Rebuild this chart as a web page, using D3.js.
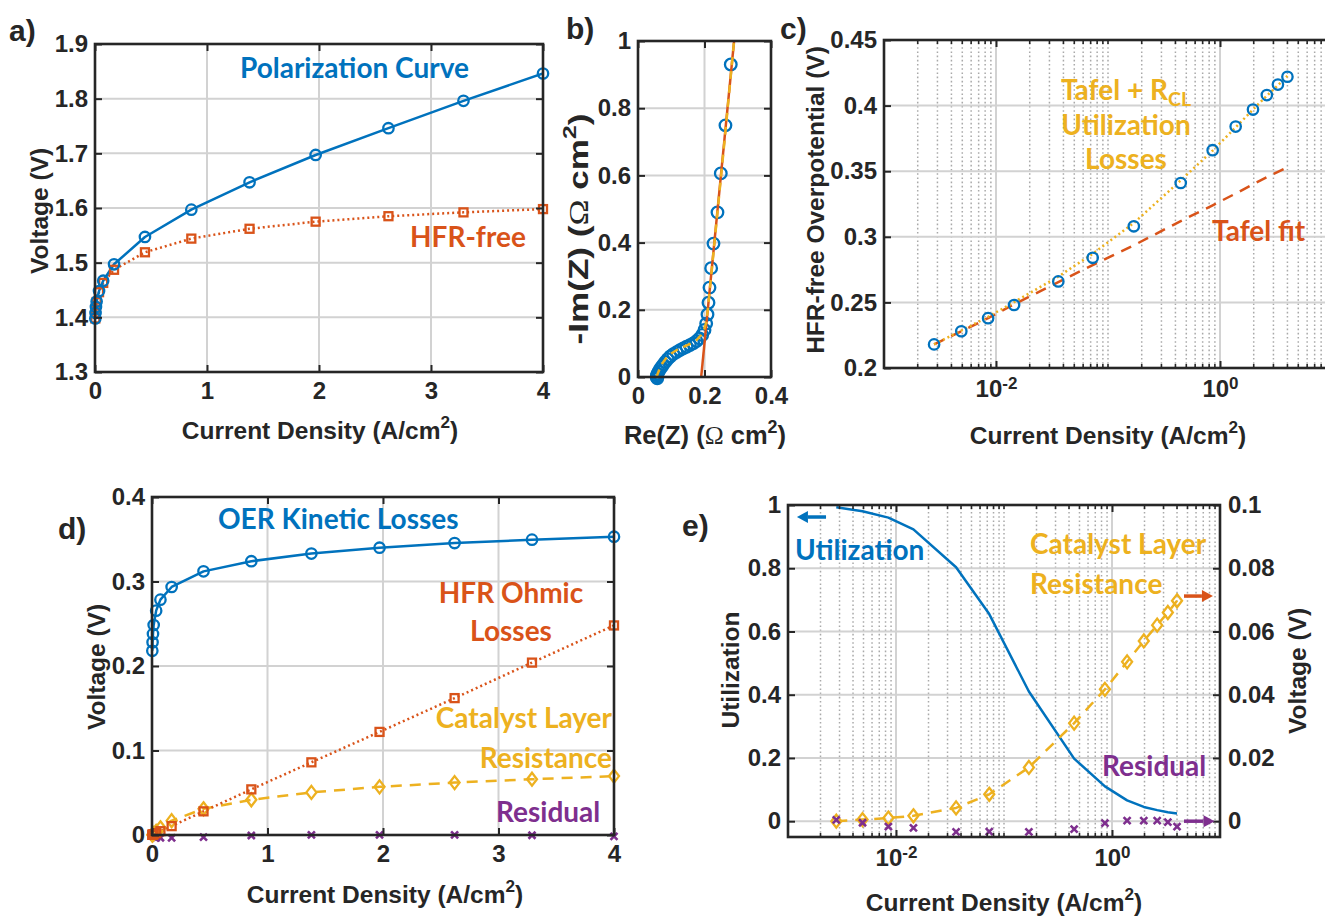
<!DOCTYPE html>
<html>
<head>
<meta charset="utf-8">
<script src="https://cdn.jsdelivr.net/npm/d3@7"></script>
<style>
  body { margin: 0; background: #fff; }
  svg { display: block; }
</style>
</head>
<body>
<script>
// ---------- data ----------
const currentDensity = [0.0028, 0.0049, 0.0085, 0.0145, 0.036, 0.073, 0.17, 0.446, 0.86, 1.38, 1.97, 2.62, 3.29, 4.0];
const polarizationV  = [1.398, 1.408, 1.419, 1.429, 1.448, 1.467, 1.497, 1.547, 1.597, 1.647, 1.697, 1.746, 1.796, 1.846];
const hfrFreeV       = [1.398, 1.408, 1.418, 1.428, 1.446, 1.463, 1.487, 1.519, 1.544, 1.562, 1.575, 1.585, 1.592, 1.598];
const overpotential  = [0.218, 0.228, 0.238, 0.248, 0.266, 0.284, 0.308, 0.341, 0.366, 0.384, 0.397, 0.408, 0.416, 0.422];
const tafelRclModel  = [0.218, 0.2285, 0.239, 0.2502, 0.2697, 0.287, 0.3105, 0.343, 0.3657, 0.3834, 0.397, 0.4075, 0.4155, 0.4227];
const oerKinetic     = [0.218, 0.228, 0.238, 0.2485, 0.2655, 0.2785, 0.2935, 0.312, 0.324, 0.333, 0.340, 0.3455, 0.3495, 0.353];
const hfrOhmic       = [0.0002, 0.0003, 0.0005, 0.0009, 0.0022, 0.0045, 0.0105, 0.028, 0.054, 0.086, 0.122, 0.162, 0.204, 0.248];
const clResistance   = [0.0, 0.0005, 0.001, 0.0017, 0.0042, 0.0085, 0.017, 0.031, 0.0417, 0.0504, 0.057, 0.062, 0.066, 0.0697];
const residual       = [0.0004, -0.0005, -0.0017, -0.0021, -0.0034, -0.0033, -0.0034, -0.0025, -0.0006, 0.0002, 0.0002, 0.0002, -0.0003, -0.0017];
const utilization    = [0.993, 0.98, 0.96, 0.923, 0.803, 0.655, 0.41, 0.198, 0.11, 0.066, 0.045, 0.035, 0.028, 0.024];

// impedance spectrum (Nyquist)
const eisRe = [0.279, 0.263, 0.249, 0.239, 0.227, 0.220, 0.215, 0.212, 0.209, 0.205,
               0.200, 0.193, 0.185, 0.176, 0.166, 0.156, 0.146, 0.136, 0.126, 0.116, 0.106,
               0.097, 0.089, 0.082, 0.076, 0.071, 0.066, 0.062, 0.059, 0.057, 0.056, 0.058];
const eisIm = [0.930, 0.749, 0.606, 0.490, 0.397, 0.324, 0.266, 0.221, 0.186, 0.159,
               0.140, 0.125, 0.115, 0.107, 0.100, 0.095, 0.090, 0.085, 0.080, 0.074, 0.068,
               0.061, 0.053, 0.045, 0.037, 0.030, 0.023, 0.016, 0.010, 0.005, 0.000, -0.004];
const eisFitRe = [0.056, 0.060, 0.066, 0.074, 0.086, 0.100, 0.118, 0.138, 0.158, 0.176, 0.190, 0.199, 0.205, 0.210, 0.220, 0.240, 0.260, 0.289];
const eisFitIm = [0.000, 0.012, 0.026, 0.042, 0.058, 0.070, 0.081, 0.090, 0.099, 0.110, 0.125, 0.142, 0.162, 0.200, 0.300, 0.500, 0.700, 1.000];
const eisLineRe = [0.190, 0.289];
const eisLineIm = [0.0, 1.0];

// tick values
const ticksA_x = [0, 1, 2, 3, 4];
const ticksA_y = [1.3, 1.4, 1.5, 1.6, 1.7, 1.8, 1.9];
const ticksB_x = [0, 0.2, 0.4];
const ticksB_y = [0, 0.2, 0.4, 0.6, 0.8, 1];
const ticksC_y = [0.2, 0.25, 0.3, 0.35, 0.4, 0.45];
const ticksD_y = [0, 0.1, 0.2, 0.3, 0.4];
const ticksE_yL = [0, 0.2, 0.4, 0.6, 0.8, 1];
const ticksE_yR = [0, 0.02, 0.04, 0.06, 0.08, 0.1];
const ticksLog = [1e-2, 1e0];

// ---------- style ----------
const COL = { blue: "#0072BD", orange: "#D95319", yellow: "#EDB120", purple: "#7E2F8E" };
const AXC = "#262626";
const FONT = "'Liberation Sans', Arial, sans-serif";
const ANN = "Lato, 'Open Sans', sans-serif";
const TICK = 7;
const TICKFS = 24;
const LABFS = 24.5;
const ANNFS = 28;

const svg = d3.select("body").append("svg")
  .attr("width", 1325).attr("height", 918)
  .attr("font-family", FONT);

// minor positions for log axes (2..9 in each decade, plus unlabelled decades)
function logMinor(lo, hi, majors) {
  const out = [];
  for (let e = Math.log10(lo); e < Math.log10(hi); e++) {
    for (let k = 1; k <= 9; k++) {
      const v = k * Math.pow(10, e);
      if (!majors.some(m => Math.abs(m - v) / v < 1e-6)) out.push(v);
    }
  }
  return out;
}
const num = d => String(+(+d).toFixed(3));

let clipN = 0;
function makePanel(x, y, o) {
  const g = svg.append("g");
  const [xl, xr] = x.range(), [yb, yt] = y.range();
  const grid = g.append("g");
  if (o.xMinor) {
    grid.append("g").selectAll("line").data(o.xMinor).join("line")
      .attr("x1", d => x(d)).attr("x2", d => x(d)).attr("y1", yb).attr("y2", yt)
      .attr("stroke", "#a9a9a9").attr("stroke-width", 1.5).attr("stroke-dasharray", "1.6,2.6");
  }
  grid.append("g").selectAll("line").data(o.xGrid).join("line")
    .attr("x1", d => x(d)).attr("x2", d => x(d)).attr("y1", yb).attr("y2", yt)
    .attr("stroke", "#d2d2d2").attr("stroke-width", 2);
  grid.append("g").selectAll("line").data(o.yGrid).join("line")
    .attr("y1", d => y(d)).attr("y2", d => y(d)).attr("x1", xl).attr("x2", xr)
    .attr("stroke", "#d2d2d2").attr("stroke-width", 2);
  const id = "clip" + (clipN++);
  g.append("clipPath").attr("id", id).append("rect")
    .attr("x", xl).attr("y", yt).attr("width", xr - xl).attr("height", yb - yt);
  const lines = g.append("g").attr("clip-path", `url(#${id})`);
  const marks = g.append("g");
  const over = g.append("g").attr("clip-path", `url(#${id})`);
  const axes = g.append("g");
  return { g, lines, marks, over, axes, x, y };
}

function styleAxis(sel) {
  sel.select(".domain").remove();
  sel.selectAll(".tick line").attr("stroke", AXC).attr("stroke-width", 2);
  sel.selectAll(".tick text").attr("fill", AXC).attr("font-size", TICKFS)
    .attr("font-weight", "bold").attr("font-family", FONT);
}

function supTicks(sel) {
  sel.selectAll(".tick text").each(function (d) {
    const t = d3.select(this);
    const e = Math.round(Math.log10(d));
    t.text("10");
    t.append("tspan").attr("dy", "-0.5em").attr("font-size", 17).text(String(e));
  });
}

function drawAxes(p, o) {
  const { x, y, axes } = p;
  const [xl, xr] = x.range(), [yb, yt] = y.range();
  const bx = axes.append("g").attr("transform", `translate(0,${yb})`)
    .call(d3.axisBottom(x).tickValues(o.xTicks).tickSizeInner(-TICK).tickSizeOuter(0)
      .tickPadding(o.xPad || 10).tickFormat(o.log ? (d => d) : num));
  styleAxis(bx);
  if (o.log) supTicks(bx);
  const tx = axes.append("g").attr("transform", `translate(0,${yt})`)
    .call(d3.axisTop(x).tickValues(o.xTicks).tickSizeInner(-TICK).tickSizeOuter(0).tickFormat(""));
  styleAxis(tx);
  const ly = axes.append("g").attr("transform", `translate(${xl},0)`)
    .call(d3.axisLeft(y).tickValues(o.yTicks).tickSizeInner(-TICK).tickSizeOuter(0)
      .tickPadding(7).tickFormat(num));
  styleAxis(ly);
  const ry = o.yRight || y;
  const rg = axes.append("g").attr("transform", `translate(${xr},0)`)
    .call(d3.axisRight(ry).tickValues(o.yRightTicks || o.yTicks).tickSizeInner(-TICK).tickSizeOuter(0)
      .tickPadding(8).tickFormat(o.yRight ? num : ""));
  styleAxis(rg);
  if (o.xMinor) {
    const mg = axes.append("g");
    [yb, yt].forEach((yy, i) => {
      mg.append("g").selectAll("line").data(o.xMinor.filter(v => v > x.domain()[0] && v < x.domain()[1])).join("line")
        .attr("x1", d => x(d)).attr("x2", d => x(d))
        .attr("y1", yy).attr("y2", i === 0 ? yy - 4 : yy + 4)
        .attr("stroke", AXC).attr("stroke-width", 1.6);
    });
  }
  axes.append("rect").attr("x", xl).attr("y", yt).attr("width", xr - xl).attr("height", yb - yt)
    .attr("fill", "none").attr("stroke", AXC).attr("stroke-width", 2.6);
}

function drawLine(p, xs, ys, color, dash, yScale, layer) {
  const ysc = yScale || p.y;
  const pts = xs.map((v, i) => [v, ys[i]]);
  (layer || p.lines).append("path").datum(pts)
    .attr("d", d3.line().x(d => p.x(d[0])).y(d => ysc(d[1])))
    .attr("fill", "none").attr("stroke", color).attr("stroke-width", 2.5)
    .attr("stroke-dasharray", dash || null).attr("stroke-linejoin", "round");
}

function drawMarkers(p, xs, ys, shape, color, yScale, r) {
  const ysc = yScale || p.y;
  const pts = xs.map((v, i) => [p.x(v), ysc(ys[i])]);
  const g = p.marks.append("g").attr("fill", "none").attr("stroke", color).attr("stroke-width", 2.3);
  pts.forEach(([cx, cy]) => {
    if (shape === "circle") g.append("circle").attr("cx", cx).attr("cy", cy).attr("r", r || 5.2);
    else if (shape === "square") g.append("rect").attr("x", cx - 4).attr("y", cy - 4).attr("width", 8).attr("height", 8);
    else if (shape === "diamond") g.append("path").attr("d", `M${cx},${cy - 6.5}L${cx + 5},${cy}L${cx},${cy + 6.5}L${cx - 5},${cy}Z`);
    else if (shape === "cross") g.append("path").attr("stroke-width", 2.6)
      .attr("d", `M${cx - 3.5},${cy - 3.5}L${cx + 3.5},${cy + 3.5}M${cx - 3.5},${cy + 3.5}L${cx + 3.5},${cy - 3.5}`);
  });
}

// text with optional super/subscripts and serif pieces
function rich(x, y, parts, o) {
  const fs = o.size;
  const t = svg.append("text").attr("x", x).attr("y", y)
    .attr("font-size", fs).attr("font-weight", "bold")
    .attr("font-family", o.family || FONT).attr("fill", o.color || AXC)
    .attr("text-anchor", o.anchor || "start");
  if (o.rotate) t.attr("transform", `rotate(-90,${x},${y})` + (o.stretch ? ` translate(${x},${y}) scale(${o.stretch},1) translate(${-x},${-y})` : ""));
  let shift = 0;
  parts.forEach(pt => {
    const s = typeof pt === "string" ? { t: pt } : pt;
    let target = 0;
    if (s.sup) target = -0.45 * fs;
    if (s.sub) target = 0.2 * fs;
    const sp = t.append("tspan").text(s.t).attr("dy", target - shift);
    shift = target;
    if (s.sup || s.sub) sp.attr("font-size", fs * 0.7);
    if (s.serif) sp.attr("font-family", "'Liberation Serif', 'DejaVu Serif', serif").attr("font-weight", "normal");
  });
  return t;
}
function label(x, y, str, color, anchor, size) {
  return rich(x, y, [str], { size: size || ANNFS, color, anchor: anchor || "start", family: ANN });
}
function arrow(x1, y1, x2, y2, color) {
  const dx = x2 - x1, dy = y2 - y1, L = Math.hypot(dx, dy), ux = dx / L, uy = dy / L;
  const hl = 11, hw = 6;
  const bx = x2 - ux * hl, by = y2 - uy * hl;
  svg.append("line").attr("x1", x1).attr("y1", y1).attr("x2", bx).attr("y2", by)
    .attr("stroke", color).attr("stroke-width", 3.5);
  svg.append("path").attr("fill", color)
    .attr("d", `M${x2},${y2}L${bx - uy * hw},${by + ux * hw}L${bx + uy * hw},${by - ux * hw}Z`);
}

const cdLabel = ["Current Density (A/cm", { t: "2", sup: true }, ")"];

// ---------- panel a: polarization curve ----------
{
  const x = d3.scaleLinear().domain([0, 4]).range([95, 543]);
  const y = d3.scaleLinear().domain([1.3, 1.9]).range([372, 44]);
  const p = makePanel(x, y, { xGrid: ticksA_x, yGrid: ticksA_y });
  drawLine(p, currentDensity, hfrFreeV, COL.orange, "2,3");
  drawLine(p, currentDensity, polarizationV, COL.blue);
  drawMarkers(p, currentDensity, hfrFreeV, "square", COL.orange);
  drawMarkers(p, currentDensity, polarizationV, "circle", COL.blue);
  drawAxes(p, { xTicks: ticksA_x, yTicks: ticksA_y });
  rich(320, 439, cdLabel, { size: LABFS, anchor: "middle" });
  rich(48, 211, ["Voltage (V)"], { size: LABFS, anchor: "middle", rotate: true });
  rich(9, 41, ["a)"], { size: 30 });
  label(240, 78, "Polarization Curve", COL.blue);
  label(410, 247, "HFR-free", COL.orange);
}

// ---------- panel b: Nyquist plot ----------
{
  const x = d3.scaleLinear().domain([0, 0.4]).range([638, 771]);
  const y = d3.scaleLinear().domain([0, 1]).range([377, 41]);
  const p = makePanel(x, y, { xGrid: ticksB_x, yGrid: ticksB_y });
  drawMarkers(p, eisRe, eisIm, "circle", COL.blue, null, 5.8);
  drawLine(p, eisLineRe, eisLineIm, COL.orange, null, null, p.over);
  drawLine(p, eisFitRe, eisFitIm, COL.yellow, "8,6", null, p.over);
  drawAxes(p, { xTicks: ticksB_x, yTicks: ticksB_y });
  rich(705, 444, ["Re(Z) (", { t: "Ω", serif: true }, " cm", { t: "2", sup: true }, ")"], { size: 25.5, anchor: "middle" });
  rich(588, 229, ["-Im(Z) (", { t: "Ω", serif: true }, " cm", { t: "2", sup: true }, ")"], { size: 27, anchor: "middle", rotate: true, stretch: 1.3 });
  rich(566, 39, ["b)"], { size: 30 });
}

// ---------- panel c: Tafel analysis ----------
{
  const x = d3.scaleLog().domain([1e-3, 1e1]).range([884, 1332]);
  const y = d3.scaleLinear().domain([0.2, 0.45]).range([368, 40]);
  const minor = logMinor(1e-3, 1e1, ticksLog);
  const p = makePanel(x, y, { xGrid: ticksLog, yGrid: ticksC_y, xMinor: minor });
  drawLine(p, currentDensity, oerKinetic, COL.orange, "11,8");
  drawLine(p, currentDensity, tafelRclModel, COL.yellow, "2,3");
  drawMarkers(p, currentDensity, overpotential, "circle", COL.blue);
  drawAxes(p, { xTicks: ticksLog, yTicks: ticksC_y, log: true, xMinor: minor, xPad: 12 });
  rich(1108, 444, cdLabel, { size: LABFS, anchor: "middle" });
  rich(824, 200, ["HFR-free Overpotential (V)"], { size: LABFS, anchor: "middle", rotate: true });
  rich(780, 39, ["c)"], { size: 30 });
  rich(1126, 100, ["Tafel + R", { t: "CL", sub: true }], { size: ANNFS, color: COL.yellow, anchor: "middle", family: ANN });
  label(1126, 135, "Utilization", COL.yellow, "middle");
  label(1126, 169, "Losses", COL.yellow, "middle");
  label(1212, 241, "Tafel fit", COL.orange);
}

// ---------- panel d: loss breakdown ----------
{
  const x = d3.scaleLinear().domain([0, 4]).range([152, 614]);
  const y = d3.scaleLinear().domain([0, 0.4]).range([835, 497]);
  const p = makePanel(x, y, { xGrid: ticksA_x, yGrid: ticksD_y });
  drawLine(p, currentDensity, clResistance, COL.yellow, "11,8");
  drawLine(p, currentDensity, hfrOhmic, COL.orange, "2,3");
  drawLine(p, currentDensity, oerKinetic, COL.blue);
  drawMarkers(p, currentDensity, residual, "cross", COL.purple);
  drawMarkers(p, currentDensity, clResistance, "diamond", COL.yellow);
  drawMarkers(p, currentDensity, hfrOhmic, "square", COL.orange);
  drawMarkers(p, currentDensity, oerKinetic, "circle", COL.blue);
  drawAxes(p, { xTicks: ticksA_x, yTicks: ticksD_y });
  rich(385, 903, cdLabel, { size: LABFS, anchor: "middle" });
  rich(105, 667, ["Voltage (V)"], { size: LABFS, anchor: "middle", rotate: true });
  rich(58, 539, ["d)"], { size: 30 });
  label(218, 529, "OER Kinetic Losses", COL.blue);
  label(511, 603, "HFR Ohmic", COL.orange, "middle");
  label(511, 641, "Losses", COL.orange, "middle");
  label(612, 728, "Catalyst Layer", COL.yellow, "end");
  label(612, 768, "Resistance", COL.yellow, "end");
  label(496, 822, "Residual", COL.purple);
}

// ---------- panel e: utilization and catalyst-layer resistance ----------
{
  const x = d3.scaleLog().domain([1e-3, 1e1]).range([788, 1220]);
  const yL = d3.scaleLinear().domain([-0.05, 1]).range([837, 505]);
  const yR = d3.scaleLinear().domain([-0.005, 0.1]).range([837, 505]);
  const minor = logMinor(1e-3, 1e1, ticksLog);
  const p = makePanel(x, yL, { xGrid: ticksLog, yGrid: ticksE_yL, xMinor: minor });
  drawLine(p, currentDensity, utilization, COL.blue);
  drawLine(p, currentDensity, clResistance, COL.yellow, "11,8", yR);
  drawMarkers(p, currentDensity, clResistance, "diamond", COL.yellow, yR);
  drawMarkers(p, currentDensity, residual, "cross", COL.purple, yR);
  drawAxes(p, { xTicks: ticksLog, yTicks: ticksE_yL, yRight: yR, yRightTicks: ticksE_yR, log: true, xMinor: minor, xPad: 12 });
  rich(1004, 911, cdLabel, { size: LABFS, anchor: "middle" });
  rich(739, 670, ["Utilization"], { size: LABFS, anchor: "middle", rotate: true });
  rich(1306, 671, ["Voltage (V)"], { size: LABFS, anchor: "middle", rotate: true });
  rich(682, 536, ["e)"], { size: 30 });
  label(795, 560, "Utilization", COL.blue);
  label(1030, 554, "Catalyst Layer", COL.yellow);
  label(1030, 594, "Resistance", COL.yellow);
  label(1102, 776, "Residual", COL.purple);
  arrow(x(0.00225), yL(0.962), x(0.00121), yL(0.962), COL.blue);
  arrow(x(4.64), yR(0.0712), x(8.6), yR(0.0712), COL.orange);
  arrow(x(4.64), yR(0.0), x(8.9), yR(0.0), COL.purple);
}
</script>
</body>
</html>
